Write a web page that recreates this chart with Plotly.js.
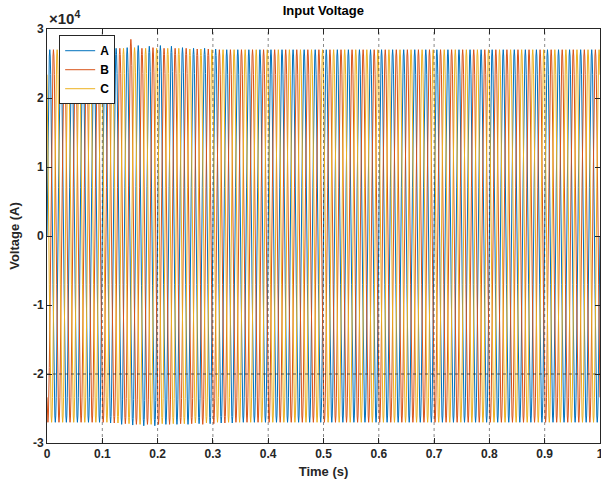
<!DOCTYPE html>
<html>
<head>
<meta charset="utf-8">
<script src="https://cdn.plot.ly/plotly-3.0.1.min.js"></script>
<style>html,body{margin:0;padding:0;background:#fff;}#chart{width:601px;height:491px;}</style>
</head>
<body>
<div id="chart"></div>
<script>
// ---- data ----
const seriesNames = ["A", "B", "C"];
const seriesColors = ["#0072BD", "#D95319", "#EDB120"];
const cycleShape = [0, 0.259, 0.5, 0.707, 0.866, 0.966, 1, 0.966, 0.866, 0.707, 0.5, 0.259,
                    0, -0.259, -0.5, -0.707, -0.866, -0.966, -1, -0.966, -0.866, -0.707, -0.5, -0.259];
const samplesPerSecond = 1200;
const duration = 1;
// phase offsets in samples (A: 0 deg, B: -120 deg, C: +120 deg)
const phaseOffset = [0, 16, 8];
// per-cycle positive and negative peak magnitudes (x1e4)
const posA = [2.70,2.70,2.70,2.70,2.70,2.71,2.72,2.73,2.76,2.75,2.76,2.75,2.73,2.72,2.72,2.71,2.70,2.70,2.70,2.70,2.70,2.70,2.70,2.70,2.70,2.70,2.70,2.70,2.70,2.70,2.70,2.70,2.70,2.70,2.70,2.70,2.70,2.70,2.70,2.70,2.70,2.70,2.70,2.70,2.70,2.70,2.70,2.70,2.70,2.70,2.70];
const negA = [2.70,2.70,2.70,2.70,2.70,2.71,2.73,2.74,2.75,2.75,2.73,2.73,2.73,2.72,2.72,2.71,2.71,2.70,2.70,2.70,2.70,2.70,2.70,2.70,2.70,2.70,2.70,2.70,2.70,2.70,2.70,2.70,2.70,2.70,2.70,2.70,2.70,2.70,2.70,2.70,2.70,2.70,2.70,2.70,2.70,2.70,2.70,2.70,2.70,2.70,2.70];
const posB = [2.70,2.70,2.70,2.70,2.70,2.70,2.71,2.72,2.85,2.72,2.73,2.72,2.72,2.72,2.71,2.71,2.70,2.70,2.70,2.70,2.70,2.70,2.70,2.70,2.70,2.70,2.70,2.70,2.70,2.70,2.70,2.70,2.70,2.70,2.70,2.70,2.70,2.70,2.70,2.70,2.70,2.70,2.70,2.70,2.70,2.70,2.70,2.70,2.70,2.70,2.70];
const negB = [2.70,2.70,2.70,2.70,2.70,2.70,2.71,2.72,2.73,2.73,2.73,2.73,2.72,2.72,2.73,2.72,2.71,2.70,2.70,2.70,2.70,2.70,2.70,2.70,2.70,2.70,2.70,2.70,2.70,2.70,2.70,2.70,2.70,2.70,2.70,2.70,2.70,2.70,2.70,2.70,2.70,2.70,2.70,2.70,2.70,2.70,2.70,2.70,2.70,2.70,2.70];
const posC = [2.70,2.70,2.70,2.70,2.70,2.70,2.71,2.72,2.73,2.72,2.72,2.72,2.72,2.71,2.71,2.70,2.70,2.70,2.70,2.70,2.70,2.70,2.70,2.70,2.70,2.70,2.70,2.70,2.70,2.70,2.70,2.70,2.70,2.70,2.70,2.70,2.70,2.70,2.70,2.70,2.70,2.70,2.70,2.70,2.70,2.70,2.70,2.70,2.70,2.70,2.70];
const negC = [2.70,2.70,2.70,2.70,2.70,2.70,2.71,2.72,2.73,2.73,2.72,2.72,2.72,2.71,2.71,2.70,2.70,2.70,2.70,2.70,2.70,2.70,2.70,2.70,2.70,2.70,2.70,2.70,2.70,2.70,2.70,2.70,2.70,2.70,2.70,2.70,2.70,2.70,2.70,2.70,2.70,2.70,2.70,2.70,2.70,2.70,2.70,2.70,2.70,2.70,2.70];
const posPeaks = [posA, posB, posC];
const negPeaks = [negA, negB, negC];
const xTickVals = [0, 0.1, 0.2, 0.3, 0.4, 0.5, 0.6, 0.7, 0.8, 0.9, 1];
const xTickText = ["0", "0.1", "0.2", "0.3", "0.4", "0.5", "0.6", "0.7", "0.8", "0.9", "1"];
const yTickVals = [-30000, -20000, -10000, 0, 10000, 20000, 30000];
const yTickText = ["-3", "-2", "-1", "0", "1", "2", "3"];
const scale = 1e4;

// ---- build traces ----
const nSamples = samplesPerSecond * duration;
const per = cycleShape.length;
const traces = seriesNames.map((name, p) => {
  const x = [], y = [];
  for (let n = 0; n <= nSamples; n++) {
    const m = n + phaseOffset[p];
    const j = Math.floor(m / per);
    const k = m % per;
    const s = cycleShape[k];
    const amp = (k < per / 2 ? posPeaks[p][j] : negPeaks[p][j]) * scale;
    x.push(n / samplesPerSecond);
    y.push(s * amp);
  }
  return {x, y, name, type: "scatter", mode: "lines",
          line: {color: seriesColors[p], width: 1}};
});

const gridShapes = xTickVals.slice(1, -1).map(v => ({
  type: "line", xref: "x", yref: "paper", x0: v, x1: v, y0: 0, y1: 1, layer: "above",
  line: {color: "rgba(38,38,38,0.55)", width: 1, dash: "dot"}
}));
gridShapes.push({type: "line", xref: "paper", yref: "y", x0: 0, x1: 1,
  y0: yTickVals[1], y1: yTickVals[1], layer: "above",
  line: {color: "rgba(38,38,38,0.75)", width: 1, dash: "dot"}});

const fontFam = "'Liberation Sans', Arial, Helvetica, sans-serif";
const axisCommon = {
  showline: true, mirror: "ticks", linecolor: "#262626", linewidth: 1,
  ticks: "inside", ticklen: 5, tickcolor: "#262626", zeroline: false,
  showgrid: false, ticklabeloverflow: "allow",
  tickfont: {family: fontFam, size: 12, color: "#262626", weight: "bold"}
};

const layout = {
  width: 601, height: 491,
  margin: {l: 47, r: 1, t: 29, b: 48},
  paper_bgcolor: "#fff", plot_bgcolor: "#fff",
  title: {text: "Input Voltage", x: 0.538, xanchor: "center", y: 0.978, yanchor: "middle",
          font: {family: fontFam, size: 13, color: "#000", weight: "bold"}},
  xaxis: Object.assign({}, axisCommon, {
    range: [0, 1], tickvals: xTickVals, ticktext: xTickText,
    title: {text: "Time (s)", standoff: 6,
            font: {family: fontFam, size: 13, color: "#262626", weight: "bold"}}
  }),
  yaxis: Object.assign({}, axisCommon, {
    range: [-30000, 30000], tickvals: yTickVals, ticktext: yTickText,
    title: {text: "Voltage (A)", standoff: 10,
            font: {family: fontFam, size: 13, color: "#262626", weight: "bold"}}
  }),
  showlegend: true,
  legend: {x: 0.022, y: 0.985, xanchor: "left", yanchor: "top",
           bgcolor: "#fff", bordercolor: "#262626", borderwidth: 1,
           entrywidth: 66, entrywidthmode: "pixels",
           font: {family: fontFam, size: 12, color: "#000", weight: "bold"},
           tracegroupgap: 0},
  shapes: gridShapes,
  annotations: [{text: "\u00d710<sup>4</sup>", xref: "paper", yref: "paper",
                 x: 0, y: 1, xanchor: "left", yanchor: "bottom", yshift: 0, showarrow: false,
                 font: {family: fontFam, size: 15, color: "#262626", weight: "bold"}}]
};

Plotly.newPlot("chart", traces, layout, {displayModeBar: false, staticPlot: true});
</script>
</body>
</html>
